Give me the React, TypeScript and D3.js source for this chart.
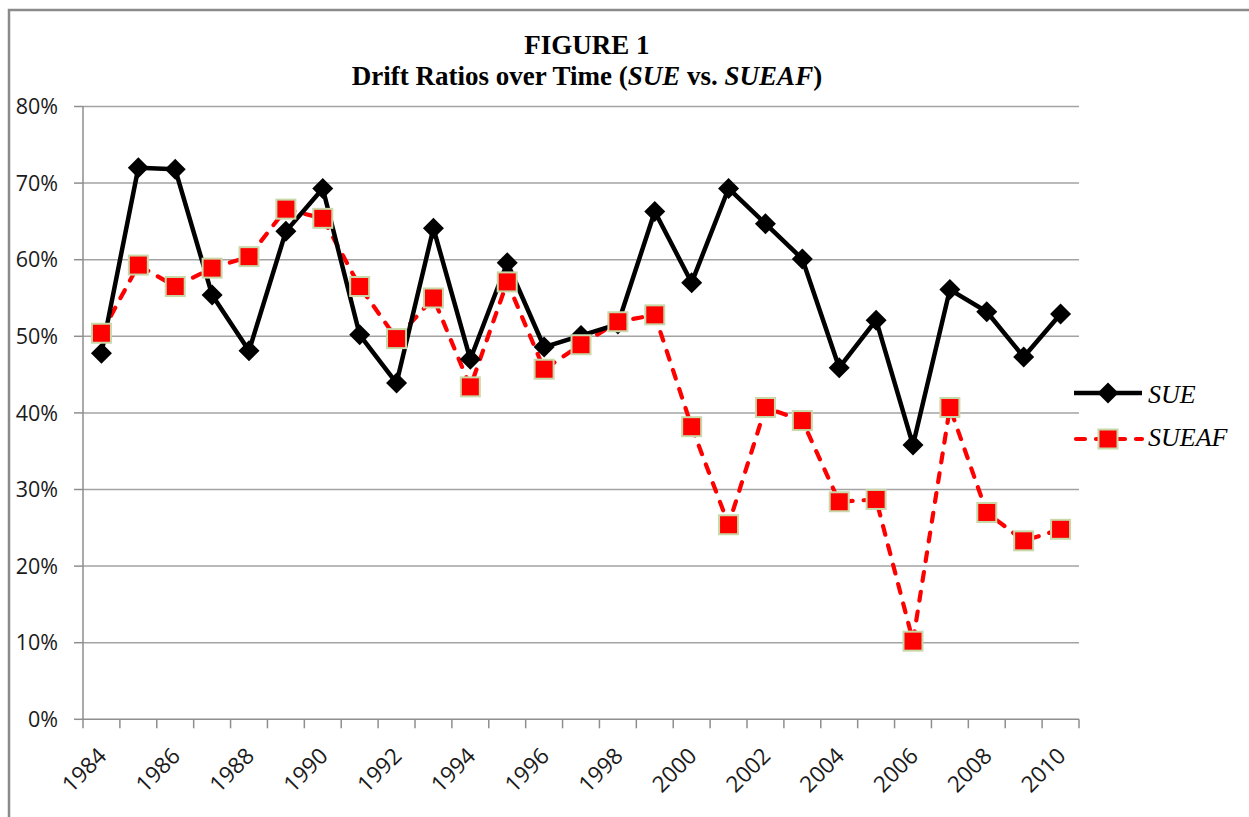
import React, { useEffect, useRef } from 'react';
import * as d3 from 'd3';

const years = [
    1984, 1985, 1986, 1987, 1988, 1989, 1990, 1991, 1992, 1993, 1994, 1995, 1996, 1997,
    1998, 1999, 2000, 2001, 2002, 2003, 2004, 2005, 2006, 2007, 2008, 2009, 2010,
];

// drift ratios in percent
const sueValues = [
    47.8, 72.0, 71.8, 55.4, 48.1, 63.7, 69.3, 50.2, 43.9, 64.1, 47.0, 59.6, 48.6, 50.1,
    51.6, 66.3, 57.0, 69.3, 64.7, 60.1, 45.9, 52.1, 35.8, 56.1, 53.2, 47.3, 52.9,
];

const sueafValues = [
    50.4, 59.3, 56.5, 58.9, 60.4, 66.6, 65.4, 56.5, 49.7, 55.0, 43.4, 57.1, 45.7, 48.9,
    51.9, 52.8, 38.2, 25.4, 40.7, 39.0, 28.4, 28.7, 10.2, 40.7, 27.0, 23.3, 24.8,
];

const yTicks = [0, 10, 20, 30, 40, 50, 60, 70, 80];
const labelYears = years.filter((y) => (y - 1984) % 2 === 0);

const W = 1249;
const H = 817;
const axisFont = '"Open Sans", sans-serif';
const serif = '"Liberation Serif", "Times New Roman", serif';

export default function App() {
    const svgRef = useRef<SVGSVGElement>(null);

    useEffect(() => {
        if (!svgRef.current) return;
        const svg = d3.select(svgRef.current);
        svg.selectAll('*').remove();

        const left = 83;
        const right = 1079;
        const top = 106.5;
        const bottom = 719.3;

        const x = d3.scaleBand<number>().domain(years).range([left, right]);
        const y = d3.scaleLinear().domain([0, 80]).range([bottom, top]);
        const cx = (yr: number) => (x(yr) as number) + x.bandwidth() / 2;

        // outer frame
        svg.append('rect')
            .attr('x', 9)
            .attr('y', 10)
            .attr('width', W + 20)
            .attr('height', H + 20)
            .attr('fill', 'white')
            .attr('stroke', '#8a8a8a')
            .attr('stroke-width', 2.5);

        // title
        const title = svg.append('text')
            .attr('text-anchor', 'middle')
            .style('font-family', serif)
            .style('font-weight', 'bold')
            .style('font-size', '27px')
            .attr('fill', '#000');
        title.append('tspan').attr('x', 587).attr('y', 54).text('FIGURE 1');
        const line2 = title.append('tspan').attr('x', 587).attr('y', 85);
        line2.append('tspan').text('Drift Ratios over Time (');
        line2.append('tspan').style('font-style', 'italic').text('SUE');
        line2.append('tspan').text(' vs. ');
        line2.append('tspan').style('font-style', 'italic').text('SUEAF');
        line2.append('tspan').text(')');

        // gridlines
        svg.append('g')
            .selectAll('line')
            .data(yTicks.filter((t) => t > 0))
            .join('line')
            .attr('x1', left)
            .attr('x2', right)
            .attr('y1', (d) => y(d))
            .attr('y2', (d) => y(d))
            .attr('stroke', '#a3a3a3')
            .attr('stroke-width', 1.5);

        // y axis
        const yAxis = svg.append('g');
        yAxis.append('line')
            .attr('x1', left).attr('x2', left)
            .attr('y1', top).attr('y2', bottom)
            .attr('stroke', '#8e8e8e').attr('stroke-width', 1.5);
        yAxis.selectAll('line.tick')
            .data(yTicks)
            .join('line')
            .attr('class', 'tick')
            .attr('x1', left - 9).attr('x2', left)
            .attr('y1', (d) => y(d)).attr('y2', (d) => y(d))
            .attr('stroke', '#8e8e8e').attr('stroke-width', 1.5);
        yAxis.selectAll('text')
            .data(yTicks)
            .join('text')
            .attr('x', 58)
            .attr('y', (d) => y(d))
            .attr('dy', '0.36em')
            .attr('text-anchor', 'end')
            .style('font-family', axisFont)
            .style('font-size', '21.5px')
            .attr('fill', '#1a1a1a')
            .text((d) => `${d}%`);

        // x axis
        const xAxis = svg.append('g');
        xAxis.append('line')
            .attr('x1', left).attr('x2', right)
            .attr('y1', bottom).attr('y2', bottom)
            .attr('stroke', '#8e8e8e').attr('stroke-width', 1.5);
        const edges = years.map((yr) => x(yr) as number).concat([right]);
        xAxis.selectAll('line.tick')
            .data(edges)
            .join('line')
            .attr('class', 'tick')
            .attr('x1', (d) => d).attr('x2', (d) => d)
            .attr('y1', bottom).attr('y2', bottom + 9)
            .attr('stroke', '#8e8e8e').attr('stroke-width', 1.5);
        xAxis.selectAll('text')
            .data(labelYears)
            .join('text')
            .attr('text-anchor', 'end')
            .attr('transform', (d) => `translate(${cx(d) + 6.5},${bottom + 38}) rotate(-45)`)
            .style('font-family', axisFont)
            .style('font-size', '22.5px')
            .attr('fill', '#1a1a1a')
            .text((d) => String(d));

        const line = d3.line<number>()
            .x((_, i) => cx(years[i]))
            .y((d) => y(d));

        // SUEAF (drawn first, SUE on top)
        svg.append('path')
            .attr('d', line(sueafValues))
            .attr('fill', 'none')
            .attr('stroke', '#ff0000')
            .attr('stroke-width', 4.2)
            .attr('stroke-dasharray', '9,11')
            .attr('stroke-linecap', 'round');

        svg.append('path')
            .attr('d', line(sueValues))
            .attr('fill', 'none')
            .attr('stroke', '#000')
            .attr('stroke-width', 4.5)
            .attr('stroke-linejoin', 'round');

        const diamond = (g: any, px: number, py: number) =>
            g.append('path')
                .attr('d', `M${px},${py - 10.5}L${px + 10.5},${py}L${px},${py + 10.5}L${px - 10.5},${py}Z`)
                .attr('fill', '#000');

        const square = (g: any, px: number, py: number) =>
            g.append('rect')
                .attr('x', px - 9.5)
                .attr('y', py - 9.5)
                .attr('width', 19)
                .attr('height', 19)
                .attr('fill', '#ff0000')
                .attr('stroke', '#c8d8a8')
                .attr('stroke-width', 2);

        const markers = svg.append('g');
        sueValues.forEach((v, i) => diamond(markers, cx(years[i]), y(v)));
        sueafValues.forEach((v, i) => square(markers, cx(years[i]), y(v)));

        // legend
        const lg = svg.append('g');
        lg.append('line')
            .attr('x1', 1074).attr('x2', 1142)
            .attr('y1', 393).attr('y2', 393)
            .attr('stroke', '#000').attr('stroke-width', 4.5);
        diamond(lg, 1108, 393);
        lg.append('line')
            .attr('x1', 1076).attr('x2', 1142)
            .attr('y1', 439).attr('y2', 439)
            .attr('stroke', '#ff0000').attr('stroke-width', 4.2)
            .attr('stroke-dasharray', '9,11').attr('stroke-linecap', 'round');
        square(lg, 1108, 439);
        lg.selectAll('text')
            .data([['SUE', 402.5], ['SUEAF', 446]] as [string, number][])
            .join('text')
            .attr('x', 1148)
            .attr('y', (d) => d[1])
            .style('font-family', serif)
            .style('font-style', 'italic')
            .style('font-size', '26px')
            .attr('fill', '#000')
            .text((d) => d[0]);
    }, []);

    return (
        <svg
            ref={svgRef}
            width={W}
            height={H}
            style={{ position: 'absolute', left: 0, top: 0, background: 'white' }}
        />
    );
}
